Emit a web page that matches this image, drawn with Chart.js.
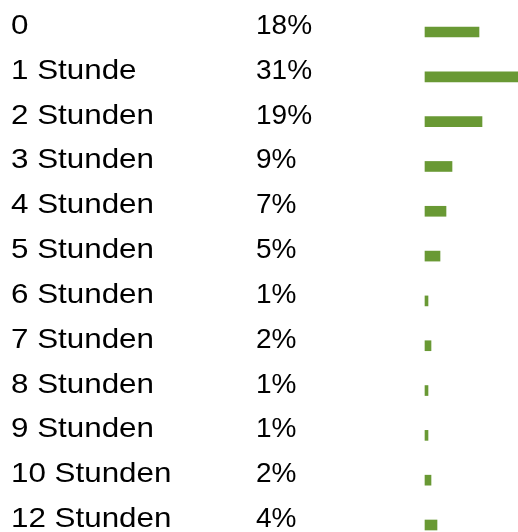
<!DOCTYPE html>
<html>
<head>
<meta charset="utf-8">
<script src="https://cdn.jsdelivr.net/npm/chart.js@4/dist/chart.umd.min.js"></script>
<style>
  html, body { margin: 0; padding: 0; background: #fff; }
  canvas { display: block; }
</style>
</head>
<body>
<canvas id="c" width="518" height="532"></canvas>
<script>
const categories = ['0', '1 Stunde', '2 Stunden', '3 Stunden', '4 Stunden', '5 Stunden',
  '6 Stunden', '7 Stunden', '8 Stunden', '9 Stunden', '10 Stunden', '12 Stunden'];
const shares = [18, 31, 19, 9, 7, 5, 1, 2, 1, 1, 2, 4];
const barColor = '#699934';

// draws the label column and the percent column next to each bar row
const tableText = {
  id: 'tableText',
  afterDraw(chart) {
    const ctx = chart.ctx;
    const y = chart.scales.y;
    ctx.save();
    ctx.fillStyle = '#000';
    ctx.font = '28px "Liberation Sans", Arial, sans-serif';
    ctx.textBaseline = 'alphabetic';
    ctx.textAlign = 'left';
    categories.forEach((name, i) => {
      const py = y.getPixelForValue(i) + 2;
      // labels in the reference run a bit wider than the percent column
      ctx.save();
      ctx.translate(11, py);
      ctx.scale(1.12, 1);
      ctx.fillText(name, 0, 0);
      ctx.restore();
      ctx.fillText(shares[i] + '%', 256, py);
    });
    ctx.restore();
  }
};

new Chart(document.getElementById('c'), {
  type: 'bar',
  data: {
    labels: categories,
    datasets: [{
      data: shares,
      backgroundColor: barColor,
      barThickness: 10,
      borderWidth: 0,
      clip: false
    }]
  },
  options: {
    indexAxis: 'y',
    responsive: false,
    animation: false,
    devicePixelRatio: 1,
    layout: { padding: { left: 425, right: 0, top: 32, bottom: 7 } },
    plugins: { legend: { display: false }, tooltip: { enabled: false } },
    scales: {
      x: { display: false, min: 0, max: 31 },
      y: { display: false, offset: false }
    }
  },
  plugins: [tableText]
});
</script>
</body>
</html>
